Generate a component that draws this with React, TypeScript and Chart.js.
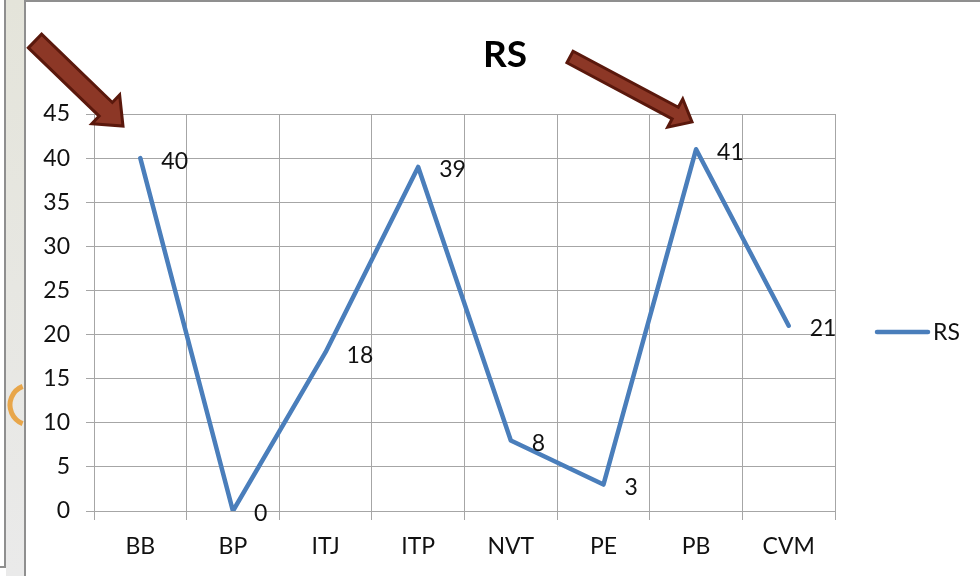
import React, { useEffect, useRef } from "react";
import { Chart, registerables } from "chart.js";

Chart.register(...registerables);

const categories = ["BB", "BP", "ITJ", "ITP", "NVT", "PE", "PB", "CVM"];
const rsValues = [40, 0, 18, 39, 8, 3, 41, 21];
const seriesName = "RS";
const chartTitle = "RS";
const yMin = 0;
const yMax = 45;
const yStep = 5;

const FONT = "Lato, 'Open Sans', sans-serif";
const LINE_COLOR = "#4A7EBB";
const GRID_COLOR = "#a6a6a6";
const TEXT_COLOR = "#111111";

function drawArrow(ctx: CanvasRenderingContext2D, x1: number, y1: number, x2: number, y2: number, shaftW: number, headW: number, headL: number) {
  const dx = x2 - x1;
  const dy = y2 - y1;
  const len = Math.hypot(dx, dy);
  const ux = dx / len;
  const uy = dy / len;
  const px = -uy;
  const py = ux;
  const bx = x2 - ux * headL;
  const by = y2 - uy * headL;
  const s = shaftW / 2;
  const h = headW / 2;
  ctx.save();
  ctx.beginPath();
  ctx.moveTo(x1 + px * s, y1 + py * s);
  ctx.lineTo(bx + px * s, by + py * s);
  ctx.lineTo(bx + px * h, by + py * h);
  ctx.lineTo(x2, y2);
  ctx.lineTo(bx - px * h, by - py * h);
  ctx.lineTo(bx - px * s, by - py * s);
  ctx.lineTo(x1 - px * s, y1 - py * s);
  ctx.closePath();
  ctx.fillStyle = "#8C3726";
  ctx.fill();
  ctx.lineWidth = 3;
  ctx.lineJoin = "miter";
  ctx.strokeStyle = "#5A180C";
  ctx.stroke();
  ctx.restore();
}

const decorPlugin = {
  id: "decor",
  beforeDraw(chart: any) {
    const ctx = chart.ctx as CanvasRenderingContext2D;
    ctx.save();
    ctx.fillStyle = "#ffffff";
    ctx.fillRect(0, 0, chart.width, chart.height);
    const g = ctx.createLinearGradient(0, 0, 0, chart.height);
    g.addColorStop(0, "#e4e4da");
    g.addColorStop(1, "#eaeaea");
    ctx.fillStyle = g;
    ctx.fillRect(6, 0, 18, chart.height);
    ctx.fillStyle = "#8f8f8f";
    ctx.fillRect(4, 0, 2, 568);
    ctx.fillRect(0, 566, 6, 2);
    ctx.fillRect(24, 0, 2, chart.height);
    ctx.fillRect(26, 0, chart.width - 26, 2);
    ctx.save();
    ctx.beginPath();
    ctx.rect(6, 0, 18, chart.height);
    ctx.clip();
    ctx.beginPath();
    ctx.arc(30, 405, 20, Math.PI * 0.62, Math.PI * 1.38, false);
    ctx.lineWidth = 5;
    ctx.strokeStyle = "#E8A64A";
    ctx.stroke();
    ctx.restore();
    ctx.restore();
  },
  afterDraw(chart: any) {
    const ctx = chart.ctx as CanvasRenderingContext2D;
    ctx.save();
    ctx.fillStyle = "#000000";
    ctx.font = `bold 37px ${FONT}`;
    ctx.textAlign = "center";
    ctx.textBaseline = "middle";
    ctx.fillText(chartTitle, 505, 55);
    const ly = 332;
    ctx.beginPath();
    ctx.moveTo(877, ly);
    ctx.lineTo(928, ly);
    ctx.lineWidth = 4.5;
    ctx.lineCap = "round";
    ctx.strokeStyle = LINE_COLOR;
    ctx.stroke();
    ctx.font = `23px ${FONT}`;
    ctx.fillStyle = TEXT_COLOR;
    ctx.textAlign = "left";
    ctx.fillText(seriesName, 933, ly + 1);
    const meta = chart.getDatasetMeta(0);
    meta.data.forEach((pt: any, i: number) => {
      ctx.fillText(String(rsValues[i]), pt.x + 21, pt.y + 3);
    });
    ctx.restore();
    drawArrow(ctx, 35, 41, 123, 126, 19, 40, 24);
    drawArrow(ctx, 570, 57, 692, 122, 13, 32, 19);
  },
};

export default function App() {
  const canvasRef = useRef<HTMLCanvasElement | null>(null);

  useEffect(() => {
    if (!canvasRef.current) return;
    const chart = new Chart(canvasRef.current, {
      type: "line",
      data: {
        labels: categories,
        datasets: [
          {
            label: seriesName,
            data: rsValues,
            borderColor: LINE_COLOR,
            backgroundColor: LINE_COLOR,
            borderWidth: 4.5,
            pointRadius: 0,
            tension: 0,
            borderJoinStyle: "round",
            borderCapStyle: "round",
            fill: false,
          },
        ],
      },
      options: {
        responsive: false,
        animation: false,
        devicePixelRatio: 1,
        layout: { padding: { left: 26, top: 114, right: 145, bottom: 0 } },
        plugins: {
          legend: { display: false },
          title: { display: false },
          tooltip: { enabled: false },
        },
        scales: {
          x: {
            type: "category",
            offset: true,
            grid: {
              offset: true,
              color: GRID_COLOR,
              lineWidth: 1,
              tickLength: 9,
              drawTicks: true,
            },
            border: { color: GRID_COLOR, width: 1 },
            ticks: {
              color: TEXT_COLOR,
              font: { family: FONT, size: 23 },
              padding: 13,
              maxRotation: 0,
              autoSkip: false,
            },
            afterFit: (s: any) => {
              s.height = 65;
            },
          },
          y: {
            min: yMin,
            max: yMax,
            grid: {
              color: GRID_COLOR,
              lineWidth: 1,
              tickLength: 8,
            },
            border: { color: GRID_COLOR, width: 1 },
            ticks: {
              stepSize: yStep,
              color: TEXT_COLOR,
              font: { family: FONT, size: 23 },
              padding: 16,
            },
            afterFit: (s: any) => {
              s.width = 68;
            },
          },
        },
      },
      plugins: [decorPlugin],
    });
    return () => chart.destroy();
  }, []);

  return (
    <div style={{ position: "fixed", left: 0, top: 0, width: 980, height: 576, background: "#fff" }}>
      <canvas ref={canvasRef} width={980} height={576} style={{ display: "block" }} />
    </div>
  );
}
